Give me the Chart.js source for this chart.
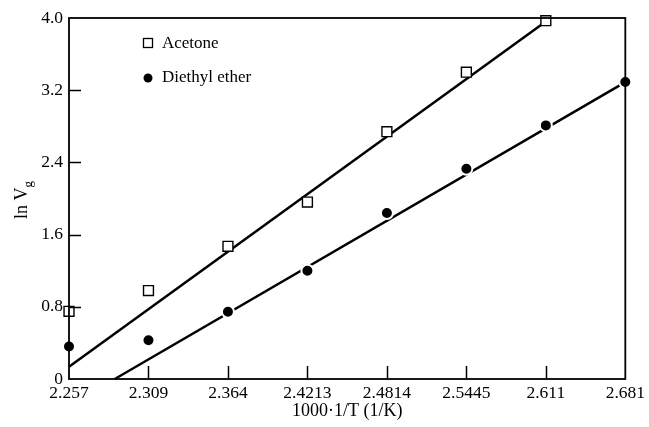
<!DOCTYPE html>
<html>
<head>
<meta charset="utf-8">
<script src="https://cdn.jsdelivr.net/npm/chart.js@4.4.0/dist/chart.umd.min.js"></script>
<style>
  html, body { margin: 0; padding: 0; background: #fff; }
  #wrap { width: 649px; height: 427px; position: relative; }
</style>
</head>
<body>
<div id="wrap"><canvas id="lnChart"></canvas></div>
<script>
// tick labels on x (1000/T), plotted at even index positions
const xLabels = ['2.257', '2.309', '2.364', '2.4213', '2.4814', '2.5445', '2.611', '2.681'];
const yTicks = [0, 0.8, 1.6, 2.4, 3.2, 4.0];

// measured ln Vg
const acetone = [0.75, 0.98, 1.47, 1.96, 2.74, 3.40, 3.97, null];
const ether = [0.36, 0.43, 0.745, 1.20, 1.84, 2.33, 2.81, 3.29];

// fitted lines (end points, x as tick index)
const acetoneFitX = [0, 6];
const acetoneFitY = [0.135, 3.96];
const etherFitX = [0.576, 7];
const etherFitY = [0, 3.29];

const serif = '"Liberation Serif", "DejaVu Serif", serif';

function toPoints(ys) {
    return ys.map((y, i) => ({ x: i, y: y })).filter(p => p.y !== null);
}
function pairs(xs, ys) {
    return xs.map((x, i) => ({ x: x, y: ys[i] }));
}

const frame = {
    id: 'frame',
    afterDatasetsDraw(chart) {
        const ctx = chart.ctx;
        const a = chart.chartArea;
        const xs = chart.scales.x, ys = chart.scales.y;
        ctx.save();
        ctx.strokeStyle = '#000';
        ctx.lineWidth = 1.8;
        ctx.strokeRect(a.left, a.top, a.right - a.left, a.bottom - a.top);
        // inward ticks
        ctx.lineWidth = 1.5;
        ctx.beginPath();
        yTicks.slice(1, -1).forEach(v => {
            const py = Math.round(ys.getPixelForValue(v)) + 0.5;
            ctx.moveTo(a.left, py);
            ctx.lineTo(a.left + 12, py);
        });
        for (let i = 1; i < xLabels.length - 1; i++) {
            const px = Math.round(xs.getPixelForValue(i)) + 0.5;
            ctx.moveTo(px, a.bottom);
            ctx.lineTo(px, a.bottom - 13);
        }
        ctx.stroke();

        // legend
        ctx.font = '17px ' + serif;
        ctx.textBaseline = 'middle';
        ctx.textAlign = 'left';
        ctx.fillStyle = '#fff';
        ctx.lineWidth = 1.3;
        ctx.fillRect(143.5, 38.5, 9, 9);
        ctx.strokeRect(143.5, 38.5, 9, 9);
        ctx.fillStyle = '#000';
        ctx.fillText(chart.data.datasets[2].label, 162, 44);
        ctx.beginPath();
        ctx.arc(148, 78, 4.5, 0, Math.PI * 2);
        ctx.fill();
        ctx.fillText(chart.data.datasets[3].label, 162, 78);

        // axis titles
        ctx.font = '18px ' + serif;
        ctx.textAlign = 'center';
        ctx.textBaseline = 'alphabetic';
        ctx.fillText('1000\u00b71/T (1/K)', (a.left + a.right) / 2, 416);

        ctx.translate(27, 200);
        ctx.rotate(-Math.PI / 2);
        ctx.textAlign = 'left';
        const main = 'ln V';
        const w = ctx.measureText(main).width;
        ctx.font = '13px ' + serif;
        const wg = ctx.measureText('g').width;
        const start = -(w + wg) / 2;
        ctx.font = '18px ' + serif;
        ctx.fillText(main, start, 0);
        ctx.font = '13px ' + serif;
        ctx.fillText('g', start + w, 5);
        ctx.restore();
    }
};

new Chart(document.getElementById('lnChart'), {
    type: 'scatter',
    data: {
        datasets: [
            {
                label: 'Acetone fit',
                data: pairs(acetoneFitX, acetoneFitY),
                showLine: true,
                borderColor: '#000',
                borderWidth: 2.5,
                pointRadius: 0,
                order: 3
            },
            {
                label: 'Diethyl ether fit',
                data: pairs(etherFitX, etherFitY),
                showLine: true,
                borderColor: '#000',
                borderWidth: 2.5,
                pointRadius: 0,
                order: 3
            },
            {
                label: 'Acetone',
                data: toPoints(acetone),
                pointStyle: 'rect',
                pointRadius: 7,
                backgroundColor: '#fff',
                borderColor: '#000',
                borderWidth: 1.4,
                order: 1
            },
            {
                label: 'Diethyl ether',
                data: toPoints(ether),
                pointStyle: 'circle',
                pointRadius: 6,
                backgroundColor: '#000',
                borderColor: '#fff',
                borderWidth: 2,
                order: 1
            }
        ]
    },
    options: {
        responsive: true,
        maintainAspectRatio: false,
        animation: false,
        clip: false,
        layout: { padding: { left: 0, top: 18, right: 21, bottom: 0 } },
        plugins: {
            legend: { display: false },
            tooltip: { enabled: false }
        },
        scales: {
            x: {
                type: 'linear',
                min: 0,
                max: 7,
                afterBuildTicks(scale) {
                    scale.ticks = xLabels.map((l, i) => ({ value: i }));
                },
                afterFit(scale) { scale.height = 48; },
                grid: { display: false, drawTicks: false },
                border: { display: false },
                ticks: {
                    padding: 4,
                    maxRotation: 0,
                    autoSkip: false,
                    color: '#000',
                    font: { family: serif, size: 17.5 },
                    callback: (v) => xLabels[v]
                }
            },
            y: {
                type: 'linear',
                min: 0,
                max: 4,
                afterBuildTicks(scale) {
                    scale.ticks = yTicks.map(v => ({ value: v }));
                },
                afterFit(scale) { scale.width = 69; },
                grid: { display: false, drawTicks: false },
                border: { display: false },
                ticks: {
                    padding: 6,
                    color: '#000',
                    font: { family: serif, size: 17.5 },
                    callback: (v) => v === 0 ? '0' : v.toFixed(1)
                }
            }
        }
    },
    plugins: [frame]
});
</script>
</body>
</html>
